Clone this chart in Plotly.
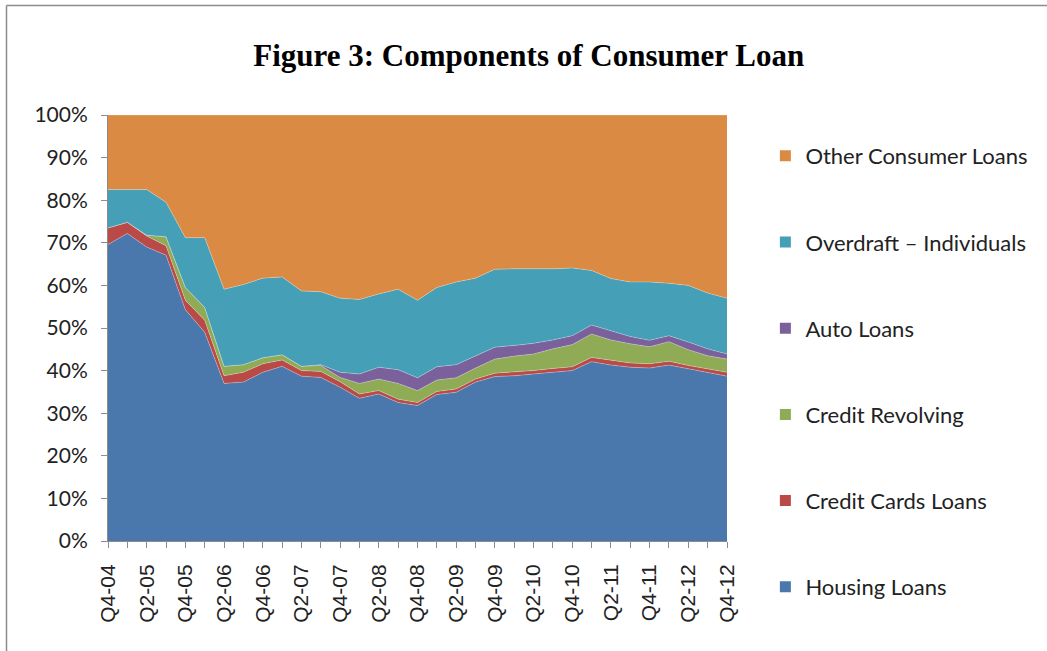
import plotly.graph_objects as go

quarters = ["Q4-04", "Q1-05", "Q2-05", "Q3-05", "Q4-05", "Q1-06", "Q2-06", "Q3-06",
            "Q4-06", "Q1-07", "Q2-07", "Q3-07", "Q4-07", "Q1-08", "Q2-08", "Q3-08",
            "Q4-08", "Q1-09", "Q2-09", "Q3-09", "Q4-09", "Q1-10", "Q2-10", "Q3-10",
            "Q4-10", "Q1-11", "Q2-11", "Q3-11", "Q4-11", "Q1-12", "Q2-12", "Q3-12", "Q4-12"]

housing = [69.6, 72.2, 69.0, 67.1, 54.3, 49.0, 37.0, 37.3, 39.6, 41.0, 38.7, 38.4, 36.1,
           33.5, 34.5, 32.5, 31.8, 34.4, 34.9, 37.3, 38.6, 38.8, 39.2, 39.6, 40.0, 42.1,
           41.3, 40.8, 40.6, 41.3, 40.4, 39.6, 38.7]
credit_cards = [3.9, 2.6, 2.6, 2.2, 2.2, 2.8, 1.8, 2.3, 2.0, 1.5, 1.3, 1.4, 1.3, 1.0, 0.8,
                0.8, 0.7, 0.7, 0.8, 0.7, 0.8, 0.9, 0.8, 0.9, 0.9, 1.0, 1.2, 1.0, 1.0, 0.9,
                0.8, 0.8, 0.9]
credit_revolving = [0.0, 0.0, 0.2, 2.1, 3.0, 3.0, 2.2, 1.8, 1.4, 1.2, 1.0, 1.4, 1.0, 2.5,
                    2.7, 3.7, 2.8, 2.7, 2.6, 2.6, 3.3, 3.7, 3.9, 4.6, 5.2, 5.5, 4.7, 4.5,
                    4.0, 4.6, 3.7, 3.1, 3.1]
auto_loans = [0.0, 0.0, 0.0, 0.0, 0.0, 0.0, 0.0, 0.0, 0.0, 0.0, 0.0, 0.2, 1.2, 2.2, 2.8,
              3.2, 3.0, 3.1, 3.1, 2.9, 2.8, 2.5, 2.5, 2.1, 2.1, 2.1, 2.1, 1.7, 1.5, 1.4,
              1.8, 1.6, 1.2]
overdraft = [9.0, 7.7, 10.7, 8.1, 11.7, 16.4, 18.1, 18.8, 18.7, 18.3, 17.7, 17.1, 17.4,
             17.5, 17.2, 18.9, 18.2, 18.6, 19.4, 18.2, 18.3, 18.0, 17.5, 16.7, 15.9, 12.8,
             12.3, 12.8, 13.7, 12.3, 13.3, 13.1, 13.1]
other = [17.5, 17.5, 17.5, 20.5, 28.8, 28.8, 40.9, 39.8, 38.3, 38.0, 41.3, 41.5, 43.0,
         43.3, 42.0, 40.9, 43.5, 40.5, 39.2, 38.3, 36.2, 36.1, 36.1, 36.1, 35.9, 36.5,
         38.4, 39.2, 39.2, 39.5, 40.0, 41.8, 43.0]

y_ticks = [0, 10, 20, 30, 40, 50, 60, 70, 80, 90, 100]
y_ticktext = ["0%", "10%", "20%", "30%", "40%", "50%", "60%", "70%", "80%", "90%", "100%"]

series = [
    ("Housing Loans", housing, "#4A78AD"),
    ("Credit Cards Loans", credit_cards, "#B94A48"),
    ("Credit Revolving", credit_revolving, "#8FAB56"),
    ("Auto Loans", auto_loans, "#7B619C"),
    ("Overdraft \u2013 Individuals", overdraft, "#459FB7"),
    ("Other Consumer Loans", other, "#DA8A43"),
]

xs = list(range(len(quarters)))
fig = go.Figure()
n = len(series)
for k, (name, vals, col) in enumerate(series):
    fig.add_trace(go.Scatter(
        x=xs, y=vals, name=name, mode="lines", stackgroup="one", groupnorm="percent",
        line=dict(width=0.6, color="rgba(255,255,255,0.45)"), fillcolor=col,
        showlegend=False, hoverinfo="x+y+name"))
for k, (name, vals, col) in enumerate(series):
    # legend-only entry with a square swatch
    fig.add_trace(go.Scatter(
        x=[None], y=[None], name=name, mode="markers",
        marker=dict(symbol="square", size=11, color=col),
        legendgroup=name, legendrank=n - k, showlegend=True))

ticktext = [q if i % 2 == 0 else "" for i, q in enumerate(quarters)]

fig.update_layout(
    width=1047, height=651,
    margin=dict(l=108, r=320, t=115, b=110),
    paper_bgcolor="white", plot_bgcolor="white",
    title=dict(text="<b>Figure 3: Components of Consumer Loan</b>",
               font=dict(family="Liberation Serif, Times New Roman, serif", size=31, color="black"),
               x=0.505, xanchor="center", y=0.915, yanchor="middle"),
    legend=dict(tracegroupgap=54.6, maxheight=640,
                font=dict(family="Lato, Calibri, sans-serif", size=22, color="#222222"),
                x=1.062, xanchor="left", y=0.953, yanchor="top", itemwidth=30),
    showlegend=True,
    xaxis=dict(range=[0, len(quarters) - 1], tickmode="array", tickvals=xs, ticktext=ticktext,
               tickangle=-90, ticks="outside", ticklen=6, tickcolor="#8C8C8C",
               ticklabelstandoff=8,
               showline=True, linecolor="#8C8C8C", linewidth=1, showgrid=False, zeroline=False,
               tickfont=dict(family="Liberation Sans, Arial, sans-serif", size=21, color="#222222")),
    yaxis=dict(range=[0, 100], tickmode="array", tickvals=y_ticks, ticktext=y_ticktext,
               ticks="outside", ticklen=6, tickcolor="#8C8C8C", ticklabelstandoff=9,
               showline=True, linecolor="#8C8C8C", linewidth=1, showgrid=False, zeroline=False,
               tickfont=dict(family="Lato, Calibri, sans-serif", size=21, color="#222222")),
)

# outer frame (top and left edges visible in the reference)
fig.add_shape(type="line", xref="paper", yref="paper",
              x0=(6.5 - 108) / 619, x1=(1047 - 108) / 619, y0=(541 - 5.5) / 426, y1=(541 - 5.5) / 426,
              line=dict(color="#8C8C8C", width=1.5))
fig.add_shape(type="line", xref="paper", yref="paper",
              x0=(6.5 - 108) / 619, x1=(6.5 - 108) / 619, y0=(541 - 5.5) / 426, y1=(541 - 660) / 426,
              line=dict(color="#8C8C8C", width=1.5))

fig.write_html("out.html")
